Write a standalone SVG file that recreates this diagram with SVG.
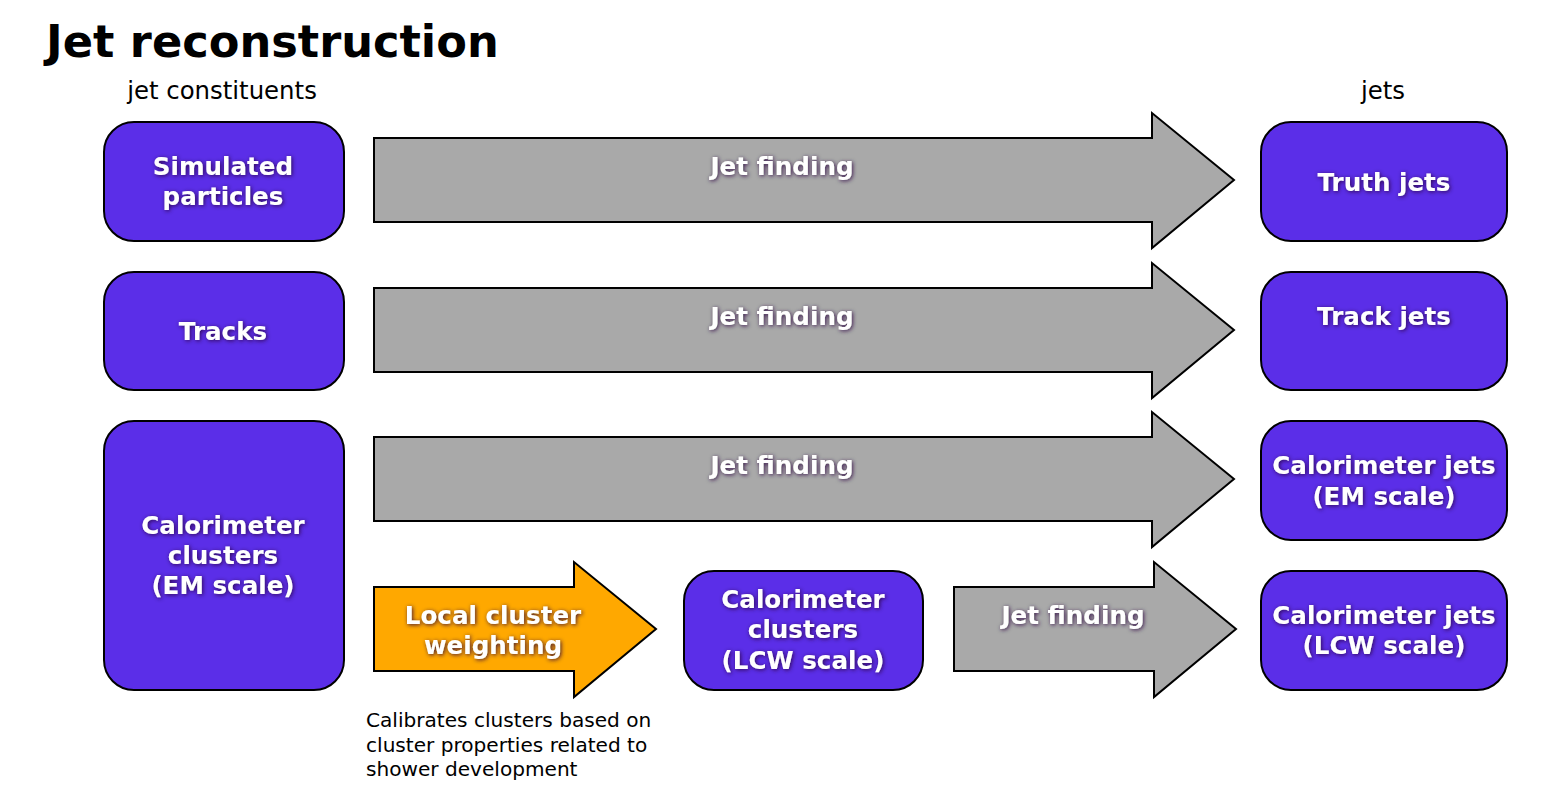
<svg xmlns="http://www.w3.org/2000/svg" width="1565" height="804" viewBox="0 0 1565 804">
<style>
.box{fill:#5b2ee8;stroke:#000;stroke-width:2}
.arr{fill:#a9a9a9;stroke:#000;stroke-width:2;stroke-linejoin:miter}
.org{fill:#ffa800;stroke:#000;stroke-width:2}
.lbl{font-family:"DejaVu Sans","Verdana",sans-serif;font-weight:bold;font-size:24.6px;fill:#fff;text-anchor:middle;filter:url(#glow)}
.plain{font-family:"DejaVu Sans","Verdana",sans-serif;fill:#000}
</style>
<defs>
<filter id="glow" x="-20%" y="-40%" width="140%" height="180%">
<feGaussianBlur in="SourceAlpha" stdDeviation="2"/>
<feOffset dx="1" dy="1" result="b"/>
<feFlood flood-color="#2a0a40" flood-opacity="0.9"/>
<feComposite in2="b" operator="in"/>
<feMerge><feMergeNode/><feMergeNode in="SourceGraphic"/></feMerge>
</filter>
</defs>
<rect width="1565" height="804" fill="#fff"/>
<text class="plain" x="46" y="57" font-size="44.7" font-weight="bold">Jet reconstruction</text>
<text class="plain" x="222" y="99" font-size="24.4" text-anchor="middle">jet constituents</text>
<text class="plain" x="1383" y="99" font-size="24.4" text-anchor="middle">jets</text>

<g id="connectors">
<g id="arrow-jf1"><polygon class="arr" points="374,138 1152,138 1152,113 1234,180 1152,248 1152,222 374,222"/><text class="lbl" x="782" y="175">Jet finding</text></g>
<g id="arrow-jf2"><polygon class="arr" points="374,288 1152,288 1152,263 1234,330 1152,398 1152,372 374,372"/><text class="lbl" x="782" y="325">Jet finding</text></g>
<g id="arrow-jf3"><polygon class="arr" points="374,437 1152,437 1152,412 1234,479 1152,547 1152,521 374,521"/><text class="lbl" x="782" y="474">Jet finding</text></g>
<g id="arrow-jf4"><polygon class="arr" points="954,587 1154,587 1154,562 1236,629 1154,697 1154,671 954,671"/><text class="lbl" x="1073" y="624">Jet finding</text></g>
<g id="arrow-lcw"><polygon class="org" points="374,587 574,587 574,562 656,629 574,697 574,671 374,671"/><text class="lbl" x="493" y="624">Local cluster</text><text class="lbl" x="493" y="654">weighting</text></g>
</g>

<g id="simulated-particles"><rect class="box" x="104" y="122" width="240" height="119" rx="30"/><text class="lbl" x="223" y="175">Simulated</text><text class="lbl" x="223" y="205">particles</text></g>
<g id="tracks"><rect class="box" x="104" y="272" width="240" height="118" rx="30"/><text class="lbl" x="223" y="340">Tracks</text></g>
<g id="calo-clusters-em"><rect class="box" x="104" y="421" width="240" height="269" rx="30"/><text class="lbl" x="223" y="534">Calorimeter</text><text class="lbl" x="223" y="564">clusters</text><text class="lbl" x="223" y="594">(EM scale)</text></g>
<g id="calo-clusters-lcw"><rect class="box" x="684" y="571" width="239" height="119" rx="30"/><text class="lbl" x="803" y="608">Calorimeter</text><text class="lbl" x="803" y="638">clusters</text><text class="lbl" x="803" y="669">(LCW scale)</text></g>
<g id="truth-jets"><rect class="box" x="1261" y="122" width="246" height="119" rx="30"/><text class="lbl" x="1384" y="191">Truth jets</text></g>
<g id="track-jets"><rect class="box" x="1261" y="272" width="246" height="118" rx="30"/><text class="lbl" x="1384" y="325">Track jets</text></g>
<g id="calo-jets-em"><rect class="box" x="1261" y="421" width="246" height="119" rx="30"/><text class="lbl" x="1384" y="474">Calorimeter jets</text><text class="lbl" x="1384" y="505">(EM scale)</text></g>
<g id="calo-jets-lcw"><rect class="box" x="1261" y="571" width="246" height="119" rx="30"/><text class="lbl" x="1384" y="624">Calorimeter jets</text><text class="lbl" x="1384" y="654">(LCW scale)</text></g>

<g id="note"><text class="plain" font-size="20.1" x="366" y="727">Calibrates clusters based on</text><text class="plain" font-size="20.1" x="366" y="752">cluster properties related to</text><text class="plain" font-size="20.1" x="366" y="776">shower development</text></g>
</svg>
